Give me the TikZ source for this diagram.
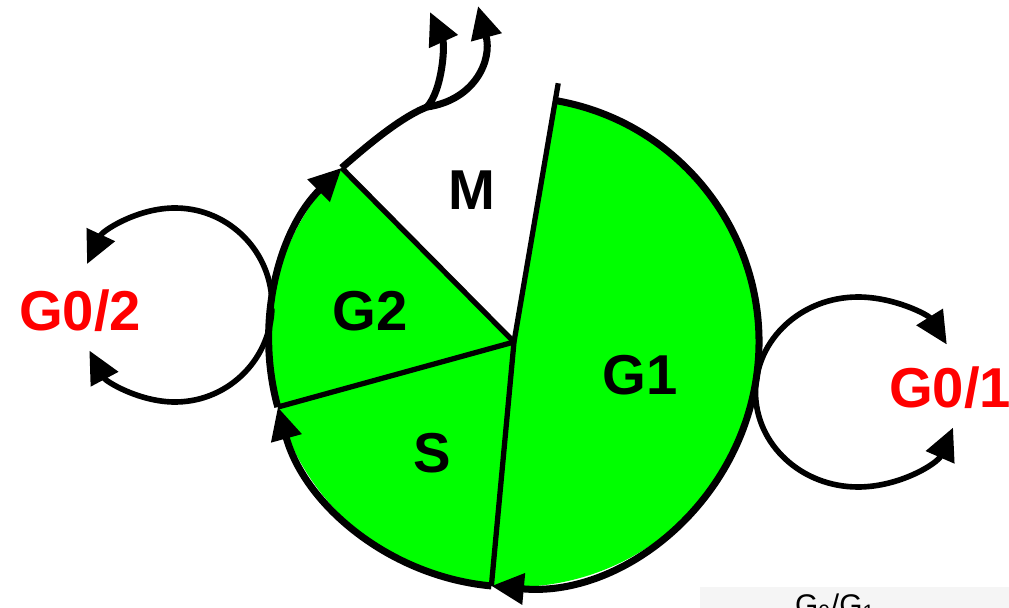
\documentclass[tikz,border=0pt]{standalone}
\usepackage{fontspec}
\setmainfont{Liberation Sans}
\usetikzlibrary{arrows.meta, calc, positioning}

\definecolor{phasegreen}{RGB}{0,255,0}
\definecolor{restred}{RGB}{255,0,0}

\tikzset{
    phase/.style={font=\fontsize{32}{32}\selectfont\bfseries},
    restlabel/.style={phase, text=restred},
    rim/.style={line width=4pt},
    spoke/.style={line width=3pt},
    headed/.style={-{Triangle[length=0.65cm, width=0.6cm]}},
    loopline/.style={line width=3.2pt, headed},
}

\begin{document}
\begin{tikzpicture}
    \useasboundingbox (0,0) rectangle (20.18,-12.16);
    \clip (0,0) rectangle (20.18,-12.16);

    % 圆心与环的中心
    \coordinate (C) at (10.28,-6.84);
    \coordinate (L) at (3.5,-6.1);
    \coordinate (R) at (17.16,-7.84);

    % 底部灰条
    \fill[black!4] (14,-11.74) rectangle (20.18,-12.16);

    % 绿色扇形
    \fill[phasegreen] (C) -- ++(80.3:4.9) arc[start angle=80.3, end angle=-95.3, radius=4.9] -- cycle;
    \fill[phasegreen] (C) -- ++(134.7:4.9) arc[start angle=134.7, end angle=264.7, radius=4.9] -- cycle;

    % 分界线
    \draw[spoke] (C) -- ++(80.3:5.25);
    \draw[spoke] (C) -- ++(134.7:4.9);
    \draw[spoke] (C) -- ++(195.4:4.9);
    \draw[spoke] (C) -- ++(264.7:4.9);

    % 周期外圈（顺时针）
    \draw[rim, headed] (C) ++(80.3:4.9) arc[start angle=80.3, end angle=-95.3, radius=4.9];
    \draw[rim, headed] (C) ++(264.7:4.9) arc[start angle=264.7, end angle=195.4, radius=4.9];
    \draw[rim, headed] (C) ++(195.4:4.9) arc[start angle=195.4, end angle=134.7, radius=4.9];

    % 顶部分裂箭头
    \coordinate (g2top) at ($(C)+(134.7:4.9)$);
    \coordinate (split) at (8.54,-2.14);
    \coordinate (upA) at (8.6,-0.24);
    \coordinate (upB) at (9.56,-0.12);
    \draw[rim] (g2top) .. controls (7.3,-2.95) and (8.0,-2.35) .. (split);
    \draw[rim, headed] (split) .. controls (8.85,-1.8) and (8.9,-0.9) .. (upA);
    \draw[rim, headed] (split) .. controls (9.5,-2.0) and (9.85,-1.2) .. (upB);

    % G0 环
    \draw[loopline] (L) ++(2:1.94) arc[start angle=2, end angle=155, radius=1.94];
    \draw[loopline] (L) ++(-2:1.94) arc[start angle=-2, end angle=-152, radius=1.94];
    \draw[loopline] (R) ++(180:2.05 and 1.9) arc[start angle=180, end angle=30, x radius=2.05, y radius=1.9];
    \draw[loopline] (R) ++(-180:2.05 and 1.9) arc[start angle=-180, end angle=-22, x radius=2.05, y radius=1.9];

    % 标注
    \node[phase] (mlabel) at (9.44,-3.8) {M};
    \node[phase] (gtwo) at (7.4,-6.22) {G2};
    \node[phase] (slabel) at (8.64,-9.06) {S};
    \node[phase] (gone) at (12.8,-7.5) {G1};
    \node[restlabel] (gzerotwo) at (1.6,-6.22) {G0/2};
    \node[restlabel] (gzeroone) at (19.0,-7.76) {G0/1};
    \node[anchor=base west, font=\fontsize{17}{17}\selectfont] (caption) at (15.78,-12.3) {G\textsubscript{0}/G\textsubscript{1}};
\end{tikzpicture}
\end{document}
